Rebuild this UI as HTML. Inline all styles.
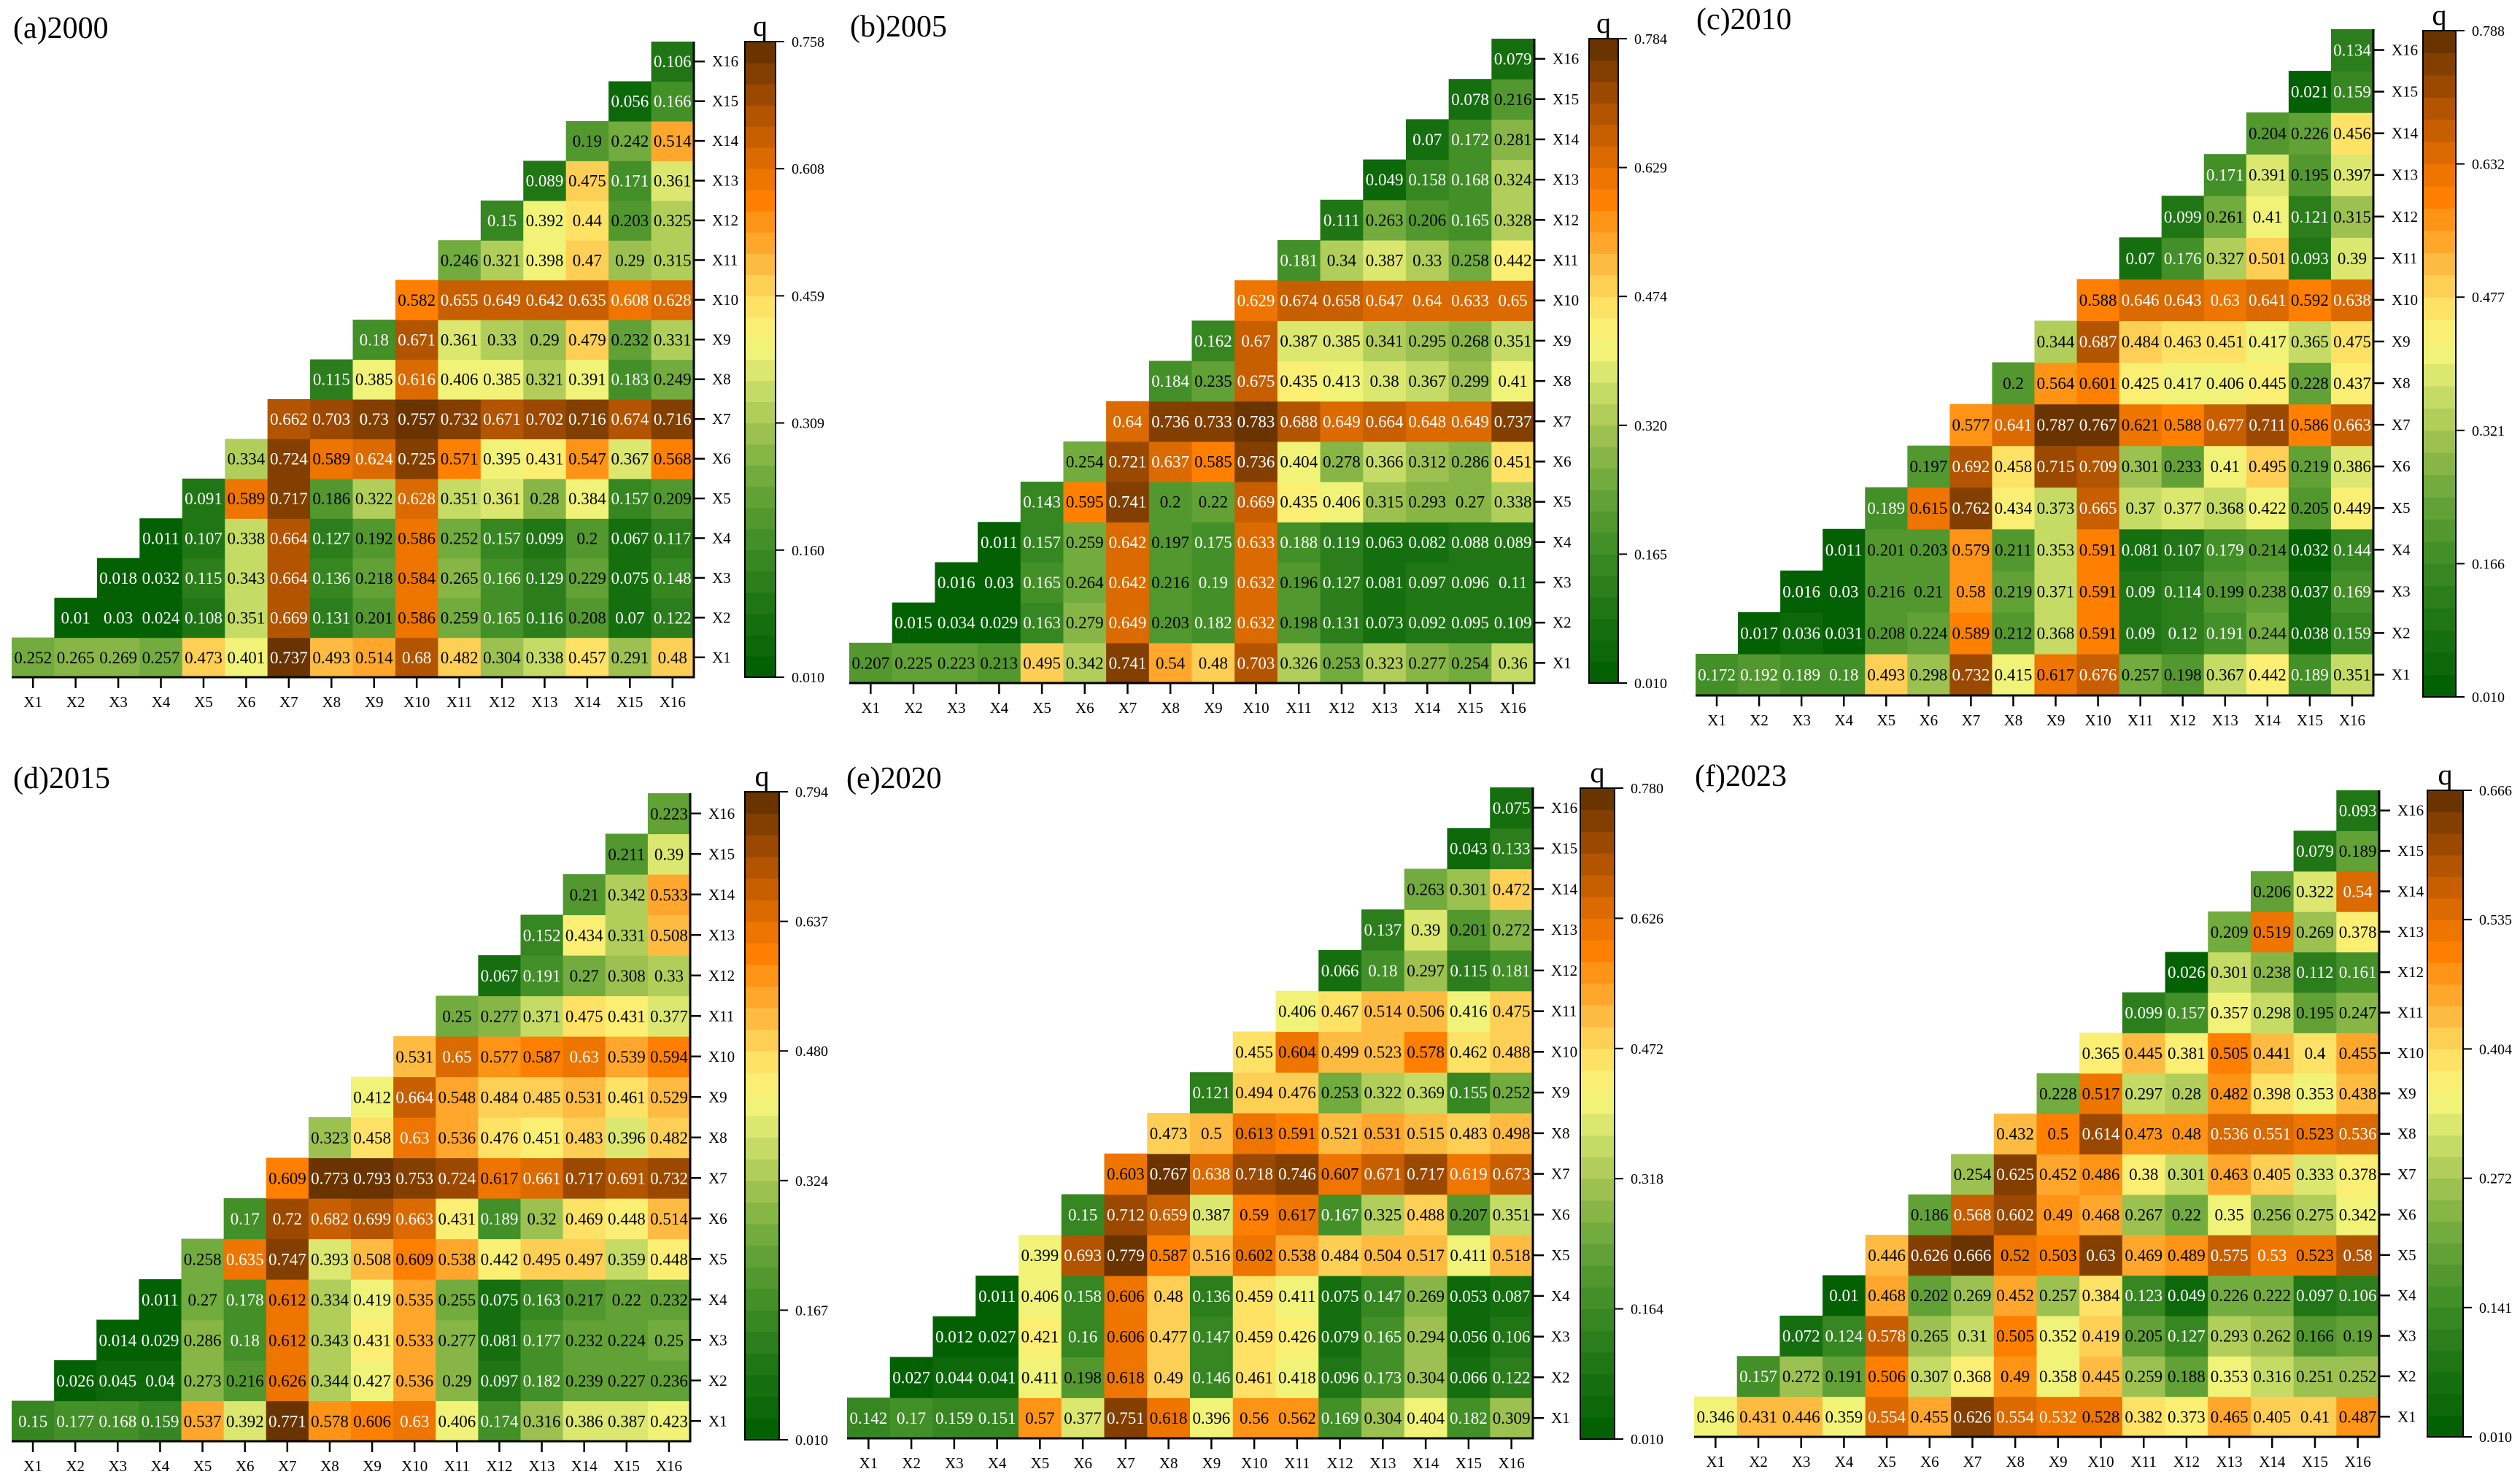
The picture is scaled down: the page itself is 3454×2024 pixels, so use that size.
<!DOCTYPE html>
<html><head><meta charset="utf-8"><style>
html,body{margin:0;padding:0;background:#fff;}
svg{display:block;font-family:"Liberation Serif","DejaVu Serif",serif;}
</style></head><body>
<svg id="chart" width="3454" height="2024" viewBox="0 0 3454 2024" xmlns="http://www.w3.org/2000/svg"></svg>
<script>
const factorLabels = ["X1","X2","X3","X4","X5","X6","X7","X8","X9","X10","X11","X12","X13","X14","X15","X16"];
const panelTitles = ["(a)2000","(b)2005","(c)2010","(d)2015","(e)2020","(f)2023"];
const tickLabelsA = ["0.758","0.608","0.459","0.309","0.160","0.010"];
const tickLabelsB = ["0.784","0.629","0.474","0.320","0.165","0.010"];
const tickLabelsC = ["0.788","0.632","0.477","0.321","0.166","0.010"];
const tickLabelsD = ["0.794","0.637","0.480","0.324","0.167","0.010"];
const tickLabelsE = ["0.780","0.626","0.472","0.318","0.164","0.010"];
const tickLabelsF = ["0.666","0.535","0.404","0.272","0.141","0.010"];
const rangeMin = [0.010,0.010,0.010,0.010,0.010,0.010];
const rangeMax = [0.758,0.784,0.788,0.794,0.780,0.666];

const valsA = [
[0.252,0.265,0.269,0.257,0.473,0.401,0.737,0.493,0.514,0.68,0.482,0.304,0.338,0.457,0.291,0.48],
[0.01,0.03,0.024,0.108,0.351,0.669,0.131,0.201,0.586,0.259,0.165,0.116,0.208,0.07,0.122],
[0.018,0.032,0.115,0.343,0.664,0.136,0.218,0.584,0.265,0.166,0.129,0.229,0.075,0.148],
[0.011,0.107,0.338,0.664,0.127,0.192,0.586,0.252,0.157,0.099,0.2,0.067,0.117],
[0.091,0.589,0.717,0.186,0.322,0.628,0.351,0.361,0.28,0.384,0.157,0.209],
[0.334,0.724,0.589,0.624,0.725,0.571,0.395,0.431,0.547,0.367,0.568],
[0.662,0.703,0.73,0.757,0.732,0.671,0.702,0.716,0.674,0.716],
[0.115,0.385,0.616,0.406,0.385,0.321,0.391,0.183,0.249],
[0.18,0.671,0.361,0.33,0.29,0.479,0.232,0.331],
[0.582,0.655,0.649,0.642,0.635,0.608,0.628],
[0.246,0.321,0.398,0.47,0.29,0.315],
[0.15,0.392,0.44,0.203,0.325],
[0.089,0.475,0.171,0.361],
[0.19,0.242,0.514],
[0.056,0.166],
[0.106]];
const valsB = [
[0.207,0.225,0.223,0.213,0.495,0.342,0.741,0.54,0.48,0.703,0.326,0.253,0.323,0.277,0.254,0.36],
[0.015,0.034,0.029,0.163,0.279,0.649,0.203,0.182,0.632,0.198,0.131,0.073,0.092,0.095,0.109],
[0.016,0.03,0.165,0.264,0.642,0.216,0.19,0.632,0.196,0.127,0.081,0.097,0.096,0.11],
[0.011,0.157,0.259,0.642,0.197,0.175,0.633,0.188,0.119,0.063,0.082,0.088,0.089],
[0.143,0.595,0.741,0.2,0.22,0.669,0.435,0.406,0.315,0.293,0.27,0.338],
[0.254,0.721,0.637,0.585,0.736,0.404,0.278,0.366,0.312,0.286,0.451],
[0.64,0.736,0.733,0.783,0.688,0.649,0.664,0.648,0.649,0.737],
[0.184,0.235,0.675,0.435,0.413,0.38,0.367,0.299,0.41],
[0.162,0.67,0.387,0.385,0.341,0.295,0.268,0.351],
[0.629,0.674,0.658,0.647,0.64,0.633,0.65],
[0.181,0.34,0.387,0.33,0.258,0.442],
[0.111,0.263,0.206,0.165,0.328],
[0.049,0.158,0.168,0.324],
[0.07,0.172,0.281],
[0.078,0.216],
[0.079]];
const valsC = [
[0.172,0.192,0.189,0.18,0.493,0.298,0.732,0.415,0.617,0.676,0.257,0.198,0.367,0.442,0.189,0.351],
[0.017,0.036,0.031,0.208,0.224,0.589,0.212,0.368,0.591,0.09,0.12,0.191,0.244,0.038,0.159],
[0.016,0.03,0.216,0.21,0.58,0.219,0.371,0.591,0.09,0.114,0.199,0.238,0.037,0.169],
[0.011,0.201,0.203,0.579,0.211,0.353,0.591,0.081,0.107,0.179,0.214,0.032,0.144],
[0.189,0.615,0.762,0.434,0.373,0.665,0.37,0.377,0.368,0.422,0.205,0.449],
[0.197,0.692,0.458,0.715,0.709,0.301,0.233,0.41,0.495,0.219,0.386],
[0.577,0.641,0.787,0.767,0.621,0.588,0.677,0.711,0.586,0.663],
[0.2,0.564,0.601,0.425,0.417,0.406,0.445,0.228,0.437],
[0.344,0.687,0.484,0.463,0.451,0.417,0.365,0.475],
[0.588,0.646,0.643,0.63,0.641,0.592,0.638],
[0.07,0.176,0.327,0.501,0.093,0.39],
[0.099,0.261,0.41,0.121,0.315],
[0.171,0.391,0.195,0.397],
[0.204,0.226,0.456],
[0.021,0.159],
[0.134]];
const valsD = [
[0.15,0.177,0.168,0.159,0.537,0.392,0.771,0.578,0.606,0.63,0.406,0.174,0.316,0.386,0.387,0.423],
[0.026,0.045,0.04,0.273,0.216,0.626,0.344,0.427,0.536,0.29,0.097,0.182,0.239,0.227,0.236],
[0.014,0.029,0.286,0.18,0.612,0.343,0.431,0.533,0.277,0.081,0.177,0.232,0.224,0.25],
[0.011,0.27,0.178,0.612,0.334,0.419,0.535,0.255,0.075,0.163,0.217,0.22,0.232],
[0.258,0.635,0.747,0.393,0.508,0.609,0.538,0.442,0.495,0.497,0.359,0.448],
[0.17,0.72,0.682,0.699,0.663,0.431,0.189,0.32,0.469,0.448,0.514],
[0.609,0.773,0.793,0.753,0.724,0.617,0.661,0.717,0.691,0.732],
[0.323,0.458,0.63,0.536,0.476,0.451,0.483,0.396,0.482],
[0.412,0.664,0.548,0.484,0.485,0.531,0.461,0.529],
[0.531,0.65,0.577,0.587,0.63,0.539,0.594],
[0.25,0.277,0.371,0.475,0.431,0.377],
[0.067,0.191,0.27,0.308,0.33],
[0.152,0.434,0.331,0.508],
[0.21,0.342,0.533],
[0.211,0.39],
[0.223]];
const valsE = [
[0.142,0.17,0.159,0.151,0.57,0.377,0.751,0.618,0.396,0.56,0.562,0.169,0.304,0.404,0.182,0.309],
[0.027,0.044,0.041,0.411,0.198,0.618,0.49,0.146,0.461,0.418,0.096,0.173,0.304,0.066,0.122],
[0.012,0.027,0.421,0.16,0.606,0.477,0.147,0.459,0.426,0.079,0.165,0.294,0.056,0.106],
[0.011,0.406,0.158,0.606,0.48,0.136,0.459,0.411,0.075,0.147,0.269,0.053,0.087],
[0.399,0.693,0.779,0.587,0.516,0.602,0.538,0.484,0.504,0.517,0.411,0.518],
[0.15,0.712,0.659,0.387,0.59,0.617,0.167,0.325,0.488,0.207,0.351],
[0.603,0.767,0.638,0.718,0.746,0.607,0.671,0.717,0.619,0.673],
[0.473,0.5,0.613,0.591,0.521,0.531,0.515,0.483,0.498],
[0.121,0.494,0.476,0.253,0.322,0.369,0.155,0.252],
[0.455,0.604,0.499,0.523,0.578,0.462,0.488],
[0.406,0.467,0.514,0.506,0.416,0.475],
[0.066,0.18,0.297,0.115,0.181],
[0.137,0.39,0.201,0.272],
[0.263,0.301,0.472],
[0.043,0.133],
[0.075]];
const valsF = [
[0.346,0.431,0.446,0.359,0.554,0.455,0.626,0.554,0.532,0.528,0.382,0.373,0.465,0.405,0.41,0.487],
[0.157,0.272,0.191,0.506,0.307,0.368,0.49,0.358,0.445,0.259,0.188,0.353,0.316,0.251,0.252],
[0.072,0.124,0.578,0.265,0.31,0.505,0.352,0.419,0.205,0.127,0.293,0.262,0.166,0.19],
[0.01,0.468,0.202,0.269,0.452,0.257,0.384,0.123,0.049,0.226,0.222,0.097,0.106],
[0.446,0.626,0.666,0.52,0.503,0.63,0.469,0.489,0.575,0.53,0.523,0.58],
[0.186,0.568,0.602,0.49,0.468,0.267,0.22,0.35,0.256,0.275,0.342],
[0.254,0.625,0.452,0.486,0.38,0.301,0.463,0.405,0.333,0.378],
[0.432,0.5,0.614,0.473,0.48,0.536,0.551,0.523,0.536],
[0.228,0.517,0.297,0.28,0.482,0.398,0.353,0.438],
[0.365,0.445,0.381,0.505,0.441,0.4,0.455],
[0.099,0.157,0.357,0.298,0.195,0.247],
[0.026,0.301,0.238,0.112,0.161],
[0.209,0.519,0.269,0.378],
[0.206,0.322,0.54],
[0.079,0.189],
[0.093]];

const allVals = [valsA,valsB,valsC,valsD,valsE,valsF];
const allTicks = [tickLabelsA,tickLabelsB,tickLabelsC,tickLabelsD,tickLabelsE,tickLabelsF];
// layout (pixel geometry)
const layout = [
 {gx0:16,gx1:951,gy0:57,gy1:928,cx0:1021,cx1:1063,cy0:57,cy1:928,tx:18,ty:52},
 {gx0:1164,gx1:2103,gy0:53,gy1:936,cx0:2178,cx1:2218,cy0:53,cy1:936,tx:1165,ty:50},
 {gx0:2324,gx1:3253,gy0:40,gy1:953,cx0:3321,cx1:3366,cy0:42,cy1:955,tx:2325,ty:40},
 {gx0:16,gx1:946,gy0:1087,gy1:1975,cx0:1021,cx1:1068,cy0:1085,cy1:1973,tx:18,ty:1080},
 {gx0:1161,gx1:2101,gy0:1079,gy1:1971,cx0:2166,cx1:2213,cy0:1080,cy1:1972,tx:1160,ty:1080},
 {gx0:2322,gx1:3261,gy0:1083,gy1:1969,cx0:3327,cx1:3376,cy0:1083,cy1:1969,tx:2323,ty:1077}
];
const stops = [[0,"#005e00"],[0.1,"#1a7212"],[0.2,"#3c8a24"],[0.3,"#68a53a"],[0.4,"#a6c754"],[0.47,"#d3e36c"],[0.53,"#f8f77a"],[0.59,"#fedf64"],[0.66,"#fdb53c"],[0.75,"#ff8000"],[0.83,"#d46600"],[0.9,"#a84e00"],[1,"#5c2f00"]];
const NB = 30;
function hex(h){return [parseInt(h.slice(1,3),16),parseInt(h.slice(3,5),16),parseInt(h.slice(5,7),16)];}
function cmap(t){
  t = Math.max(0,Math.min(1,t));
  let b = Math.min(NB-1,Math.floor(t*NB)); t = (b+0.5)/NB;
  for(let i=1;i<stops.length;i++){ if(t<=stops[i][0]){ const a=hex(stops[i-1][1]),c=hex(stops[i][1]); const f=(t-stops[i-1][0])/(stops[i][0]-stops[i-1][0]); return "rgb("+a.map((v,k)=>Math.round(v+(c[k]-v)*f)).join(",")+")"; } }
  return stops[stops.length-1][1];
}
const NS="http://www.w3.org/2000/svg";
const svg=document.getElementById('chart');
function mk(tag,attrs,parent,txt){const e=document.createElementNS(NS,tag);for(const k in attrs)e.setAttribute(k,attrs[k]);if(txt!==undefined)e.textContent=txt;(parent||svg).appendChild(e);return e;}

allVals.forEach((vals,p)=>{
  const L=layout[p], lo=rangeMin[p], hi=rangeMax[p];
  const g=mk('g',{});
  
  
  const cw=(L.gx1-L.gx0)/16, ch=(L.gy1-L.gy0)/16;
  const xS=c=>L.gx0+c*cw; const yS=r=>L.gy1-(r+1)*ch;
  const t1=mk('text',{x:L.tx,y:L.ty,'font-size':42,fill:'#000'},g,panelTitles[p]);
  
  
  vals.forEach((row,r)=>{
    row.forEach((v,k)=>{
      const c=r+k; const t=(v-lo)/(hi-lo);
      const rc=mk('rect',{x:xS(c),y:yS(r),width:cw+0.6,height:ch+0.6,fill:cmap(t)},g);
      
      
      const white = t<0.235 || t>0.79;
      const tx=mk('text',{x:xS(c)+cw/2,y:yS(r)+ch/2+8,'font-size':23,'text-anchor':'middle',fill:white?'#fff':'#000'},g,String(v));
      
      
    });
  });
  mk('line',{x1:L.gx0,y1:L.gy1,x2:L.gx1+1.5,y2:L.gy1,stroke:'#000','stroke-width':3},g);
  mk('line',{x1:L.gx1,y1:L.gy0,x2:L.gx1,y2:L.gy1+1.5,stroke:'#000','stroke-width':3},g);
  factorLabels.forEach((lab,i)=>{
    const cx=xS(i)+cw/2;
    mk('line',{x1:cx,y1:L.gy1,x2:cx,y2:L.gy1+15,stroke:'#000','stroke-width':2.5},g);
    const xl=mk('text',{x:cx,y:L.gy1+41,'font-size':21,'text-anchor':'middle',fill:'#000'},g,lab);
    
    
    const cy=yS(i)+ch/2;
    mk('line',{x1:L.gx1,y1:cy,x2:L.gx1+15,y2:cy,stroke:'#000','stroke-width':2.5},g);
    const yl=mk('text',{x:L.gx1+25,y:cy+7,'font-size':21,fill:'#000'},g,lab);
    
    
  });
  const bh=(L.cy1-L.cy0)/NB;
  for(let b=0;b<NB;b++){
    mk('rect',{x:L.cx0,y:L.cy1-(b+1)*bh,width:L.cx1-L.cx0,height:bh+0.5,fill:cmap((b+0.5)/NB)},g);
  }
  const cb=mk('rect',{x:L.cx0,y:L.cy0,width:L.cx1-L.cx0,height:L.cy1-L.cy0,fill:'none',stroke:'#000','stroke-width':2},g);
  
  
  allTicks[p].forEach((lab,i)=>{
    const y=L.cy0+i*(L.cy1-L.cy0)/(allTicks[p].length-1);
    mk('line',{x1:L.cx1,y1:y,x2:L.cx1+12,y2:y,stroke:'#000','stroke-width':2},g);
    const tl=mk('text',{x:L.cx1+22,y:y+7,'font-size':20,fill:'#000'},g,lab);
    
    
  });
  const q=mk('text',{x:(L.cx0+L.cx1)/2,y:L.cy0-8,'font-size':40,'text-anchor':'middle',fill:'#000'},g,'q');
  
  
});
</script>
</body></html>
